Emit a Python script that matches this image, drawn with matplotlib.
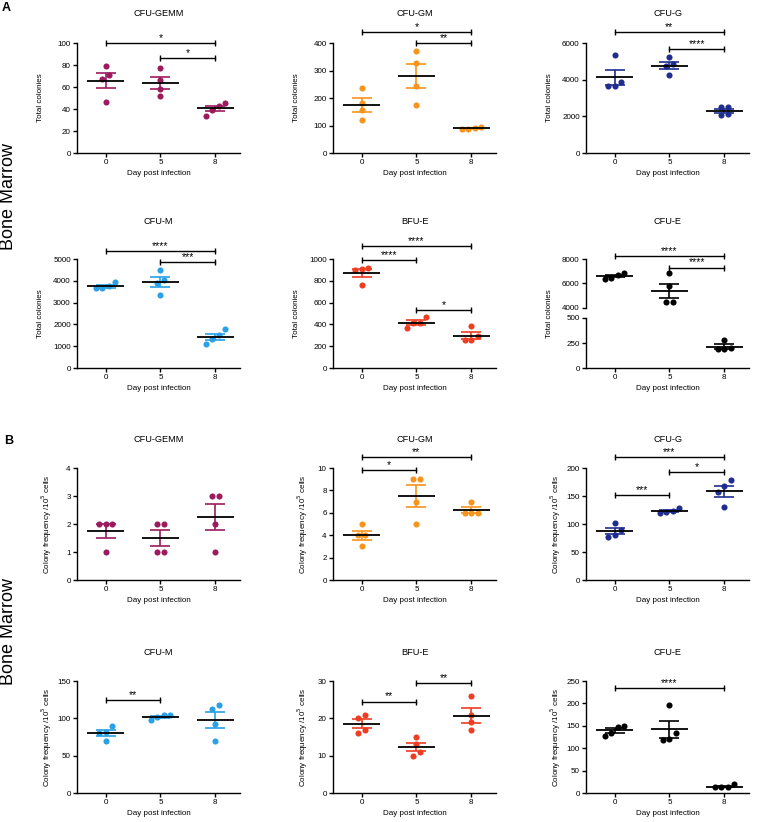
import numpy as np
import matplotlib.pyplot as plt

plt.rcParams['font.family'] = ['Liberation Sans', 'DejaVu Sans']

days = ['0', '5', '8']

# A: total colonies, 4 mice per day (day 0, 5, 8)
a_gemm = [[79, 71, 67, 46], [77, 66, 58, 52], [45.5, 43, 39.5, 34]]
a_gm = [[237, 182, 157, 121], [372, 329, 243, 175], [90, 88, 87, 93]]
a_g = [[5360, 3870, 3650, 3670], [5220, 4850, 4730, 4270], [2490, 2490, 2090, 2130]]
a_m = [[3780, 3650, 3650, 3950], [4515, 4015, 3895, 3335], [1775, 1515, 1335, 1090]]
a_bfue = [[910, 900, 915, 762], [470, 415, 415, 365], [385, 290, 255, 260]]
a_cfue = [[6700, 6400, 6480, 6880], [6840, 5810, 4490, 4490], [280, 190, 185, 195]]

# B: colony frequency per 10^5 cells
b_gemm = [[2, 2, 2, 1], [2, 2, 1, 1], [3, 3, 2, 1]]
b_gm = [[5, 4, 4, 3], [9, 9, 7, 5], [7, 6, 6, 6]]
b_g = [[102, 89, 81, 77], [123, 120, 122, 128], [178, 167, 157, 131]]
b_m = [[90, 80, 82, 70], [104, 98, 102, 104], [118, 112, 92, 70]]
b_bfue = [[21, 20, 17, 16], [15, 13, 11, 10], [26, 21, 19, 17]]
b_cfue = [[150, 147, 135, 127], [197, 134, 118, 120], [13, 13, 13, 19]]

# significance brackets: (from group, to group, height, stars)
a_gemm_sig = [(0, 2, 100, '*'), (1, 2, 86, '*')]
a_gm_sig = [(0, 2, 440, '*'), (1, 2, 400, '**')]
a_g_sig = [(0, 2, 6580, '**'), (1, 2, 5670, '****')]
a_m_sig = [(0, 2, 5350, '****'), (1, 2, 4850, '***')]
a_bfue_sig = [(0, 2, 1120, '****'), (0, 1, 990, '****'), (1, 2, 535, '*')]
a_cfue_sig = [(0, 2, 8270, '****'), (1, 2, 7300, '****')]
b_gemm_sig = []
b_gm_sig = [(0, 2, 10.95, '**'), (0, 1, 9.8, '*')]
b_g_sig = [(0, 2, 220, '***'), (1, 2, 193, '*'), (0, 1, 152, '***')]
b_m_sig = [(0, 1, 125, '**')]
b_bfue_sig = [(0, 1, 24.5, '**'), (1, 2, 29.4, '**')]
b_cfue_sig = [(0, 2, 235, '****')]

purple = '#9c1b5e'
orange = '#f7941d'
navy = '#1f2d8f'
sky = '#2aa0e6'
red = '#ee3d23'
black = '#000000'

W, H = 758, 822
fig = plt.figure(figsize=(W / 100, H / 100), dpi=100)
fs = 5.8


def add_ax(left, top, width, height):
    return fig.add_axes([left / W, 1 - (top + height) / H, width / W, height / H])


def style_ax(ax, ylim, yticks):
    ax.spines['top'].set_visible(False)
    ax.spines['right'].set_visible(False)
    ax.spines['left'].set_linewidth(1)
    ax.spines['bottom'].set_linewidth(1)
    ax.tick_params(length=3, width=1, labelsize=fs, pad=1.5)
    ax.set_xlim(-0.52, 2.45)
    ax.set_ylim(*ylim)
    ax.set_yticks(yticks)
    ax.set_xticks([0, 1, 2], days)


def swarm(ax, vals, diam=6.5):
    # spread points sideways when they overlap (in pixels)
    y0, y1 = ax.get_ylim()
    x0, x1 = ax.get_xlim()
    ppu_y = ax.bbox.height / (y1 - y0)
    ppu_x = ax.bbox.width / (x1 - x0)
    order = np.argsort(vals, kind='stable')
    offs = np.zeros(len(vals))
    groups = []
    cur = [order[0]]
    for i in order[1:]:
        if (vals[i] - vals[cur[-1]]) * ppu_y < diam:
            cur.append(i)
        else:
            groups.append(cur)
            cur = [i]
    groups.append(cur)
    for g in groups:
        n = len(g)
        for k, i in enumerate(g):
            offs[i] = (k - (n - 1) / 2) * diam / ppu_x
    return offs


def draw_groups(ax, groups, color):
    for i, vals in enumerate(groups):
        vals = np.array(vals, float)
        m = vals.mean()
        se = vals.std(ddof=1) / np.sqrt(len(vals))
        offs = swarm(ax, vals)
        ax.plot(i + offs, vals, 'o', ms=4.4, color=color, mec='none', zorder=2)
        ax.errorbar(i, m, yerr=se, fmt='none', ecolor=color, elinewidth=1.2,
                    capsize=7, capthick=1.2, zorder=3)
        ax.hlines(m, i - 0.34, i + 0.34, color='k', lw=1.3, zorder=4)


def draw_sig(ax, sig):
    for i, j, y, label in sig:
        ax.plot([i, j], [y, y], color='k', lw=1, marker='|', ms=4, mew=1, clip_on=False)
        ax.annotate(label, ((i + j) / 2, y), xytext=(0, 0), textcoords='offset points',
                    ha='center', va='bottom', fontsize=7.5, annotation_clip=False)


def title(left, top, text):
    fig.text((left + 163 / 2) / W, 1 - top / H, text, ha='center', va='center', fontsize=6.6)


col_left = [77, 333, 586]
ax_w = 163

# ---- panel A row 1
a_row1 = [(a_gemm, a_gemm_sig, purple, 'CFU-GEMM', (0, 100), range(0, 101, 20)),
          (a_gm, a_gm_sig, orange, 'CFU-GM', (0, 400), range(0, 401, 100)),
          (a_g, a_g_sig, navy, 'CFU-G', (0, 6000), range(0, 6001, 2000))]
for c, (data, sig, color, name, ylim, yt) in enumerate(a_row1):
    ax = add_ax(col_left[c], 43, ax_w, 110)
    style_ax(ax, ylim, yt)
    draw_groups(ax, data, color)
    draw_sig(ax, sig)
    ax.set_xlabel('Day post infection', fontsize=fs, labelpad=3)
    ax.set_ylabel('Total colonies', fontsize=fs)
    ax.yaxis.set_label_coords(-0.2, 0.5)
    title(col_left[c], 13, name)

# ---- panel A row 2
a_row2 = [(a_m, a_m_sig, sky, 'CFU-M', (0, 5000), range(0, 5001, 1000)),
          (a_bfue, a_bfue_sig, red, 'BFU-E', (0, 1000), range(0, 1001, 200))]
for c, (data, sig, color, name, ylim, yt) in enumerate(a_row2):
    ax = add_ax(col_left[c], 259, ax_w, 109)
    style_ax(ax, ylim, yt)
    draw_groups(ax, data, color)
    draw_sig(ax, sig)
    ax.set_xlabel('Day post infection', fontsize=fs, labelpad=3)
    ax.set_ylabel('Total colonies', fontsize=fs)
    ax.yaxis.set_label_coords(-0.2, 0.5)
    title(col_left[c], 221, name)

# CFU-E with a broken y axis
ax_up = add_ax(col_left[2], 259, ax_w, 49)
ax_lo = add_ax(col_left[2], 318, ax_w, 50)
style_ax(ax_up, (4000, 8000), [4000, 6000, 8000])
style_ax(ax_lo, (0, 500), [0, 250, 500])
ax_up.spines['bottom'].set_visible(False)
ax_up.tick_params(axis='x', bottom=False, labelbottom=False)
draw_groups(ax_up, a_cfue, black)
draw_groups(ax_lo, a_cfue, black)
draw_sig(ax_up, a_cfue_sig)
ax_lo.set_xlabel('Day post infection', fontsize=fs, labelpad=3)
ax_lo.set_ylabel('Total colonies', fontsize=fs)
ax_lo.yaxis.set_label_coords(-0.2, 1.09)
title(col_left[2], 221, 'CFU-E')

# ---- panel B
freq_label = 'Colony frequency /10$^5$ cells'
b_panels = [(b_gemm, b_gemm_sig, purple, 'CFU-GEMM', (0, 4), range(0, 5, 1)),
            (b_gm, b_gm_sig, orange, 'CFU-GM', (0, 10), range(0, 11, 2)),
            (b_g, b_g_sig, navy, 'CFU-G', (0, 200), range(0, 201, 50)),
            (b_m, b_m_sig, sky, 'CFU-M', (0, 150), range(0, 151, 50)),
            (b_bfue, b_bfue_sig, red, 'BFU-E', (0, 30), range(0, 31, 10)),
            (b_cfue, b_cfue_sig, black, 'CFU-E', (0, 250), range(0, 251, 50))]
row_top = [468, 681]
title_y = [439, 652]
for k, (data, sig, color, name, ylim, yt) in enumerate(b_panels):
    r, c = divmod(k, 3)
    ax = add_ax(col_left[c], row_top[r], ax_w, 112)
    style_ax(ax, ylim, yt)
    draw_groups(ax, data, color)
    draw_sig(ax, sig)
    ax.set_xlabel('Day post infection', fontsize=fs, labelpad=3)
    ax.set_ylabel(freq_label, fontsize=fs)
    ax.yaxis.set_label_coords(-0.14, 0.5)
    title(col_left[c], title_y[r], name)

# panel letters and side labels
fig.text(2 / W, 1 - 2 / H, 'A', fontsize=9, fontweight='bold', ha='left', va='top')
fig.text(4 / W, 1 - 435 / H, 'B', fontsize=9, fontweight='bold', ha='left', va='top')
fig.text(9 / W, 1 - 196 / H, 'Bone Marrow', rotation=90, fontsize=13, ha='center', va='center')
fig.text(9 / W, 1 - 631 / H, 'Bone Marrow', rotation=90, fontsize=13, ha='center', va='center')

fig.savefig('out.png', dpi=100)
